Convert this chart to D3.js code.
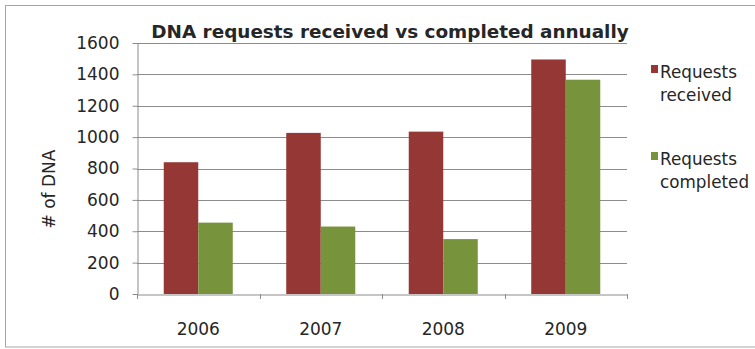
<!DOCTYPE html>
<html>
<head>
<meta charset="utf-8">
<script src="https://cdn.jsdelivr.net/npm/d3@7"></script>
<style>
  html, body { margin: 0; padding: 0; background: #fff; }
  svg { display: block; }
  text { font-family: "DejaVu Sans", sans-serif; fill: #262626; }
</style>
</head>
<body>
<svg id="chart" width="755" height="349"></svg>
<script>
const years = ["2006", "2007", "2008", "2009"];
const seriesNames = ["Requests received", "Requests completed"];
const received = [840, 1027, 1035, 1495];
const completed = [455, 430, 350, 1366];
const yTicks = [0, 200, 400, 600, 800, 1000, 1200, 1400, 1600];
const colors = ["#953735", "#77933C"];
const titleText = "DNA requests received vs completed annually";
const yTitle = "# of DNA";

const svg = d3.select("#chart");
const W = 755, H = 349;
const m = { left: 137, right: 128, top: 43, bottom: 55 };
const pw = W - m.left - m.right, ph = H - m.top - m.bottom;

// outer border
svg.append("rect").attr("x", 5.5).attr("y", 5.5).attr("width", 760).attr("height", 341.5)
  .attr("fill", "#fff").attr("stroke", "#a6a6a6").attr("stroke-width", 1);

const g = svg.append("g").attr("transform", `translate(${m.left},${m.top})`);

const x0 = d3.scaleBand().domain(years).range([0, pw]).paddingInner(0).paddingOuter(0);
const x1 = d3.scaleBand().domain(seriesNames).range([0, x0.bandwidth()]).paddingInner(0).paddingOuter(0.775);
const y = d3.scaleLinear().domain([0, 1600]).range([ph, 0]);

// gridlines
g.append("g").selectAll("line").data(yTicks.filter(d => d > 0)).join("line")
  .attr("x1", 0).attr("x2", pw)
  .attr("y1", d => Math.round(y(d)) + 0.5).attr("y2", d => Math.round(y(d)) + 0.5)
  .attr("stroke", "#8c8c8c").attr("stroke-width", 1);

// y axis
const yAxis = g.append("g").attr("transform", "translate(0.5,0)")
  .call(d3.axisLeft(y).tickValues(yTicks).tickSize(5).tickSizeOuter(0).tickPadding(13).tickFormat(d3.format("d")));
yAxis.select(".domain").attr("stroke", "#8c8c8c");
yAxis.selectAll(".tick line").attr("stroke", "#8c8c8c");
yAxis.selectAll(".tick text").attr("font-size", 17).attr("font-family", "DejaVu Sans").attr("fill", "#262626");

// bars
const data = years.map((yr, i) => ({ year: yr, values: [received[i], completed[i]] }));
g.append("g").selectAll("g").data(data).join("g")
  .attr("transform", d => `translate(${x0(d.year)},0)`)
  .selectAll("rect").data(d => d.values.map((v, k) => ({ k, v }))).join("rect")
  .attr("x", d => x1(seriesNames[d.k]))
  .attr("width", x1.bandwidth())
  .attr("y", d => y(d.v))
  .attr("height", d => y(0) - y(d.v))
  .attr("fill", d => colors[d.k]);

// x axis
const xAxis = g.append("g").attr("transform", `translate(0,${ph + 0.5})`)
  .call(d3.axisBottom(x0).tickSize(0).tickPadding(0));
xAxis.select(".domain").attr("stroke", "#8c8c8c");
xAxis.selectAll(".tick text").attr("font-size", 17).attr("font-family", "DejaVu Sans")
  .attr("fill", "#262626").attr("y", 40).attr("dy", 0);
// category boundary tick marks
g.append("g").selectAll("line").data(years.map(yr => x0(yr)).concat([pw])).join("line")
  .attr("x1", d => Math.round(d) + 0.5).attr("x2", d => Math.round(d) + 0.5)
  .attr("y1", ph).attr("y2", ph + 5)
  .attr("stroke", "#8c8c8c");

// title
svg.append("text").attr("x", 390).attr("y", 37.5).attr("text-anchor", "middle")
  .attr("font-size", 18.4).attr("font-weight", "bold").attr("fill", "#000").text(titleText);

// y title
svg.append("text").attr("transform", "translate(55,189) rotate(-90)").attr("text-anchor", "middle")
  .attr("font-size", 17).text(yTitle);

// legend
const legendY = [78, 165];
const leg = svg.append("g").selectAll("g").data(seriesNames).join("g")
  .attr("transform", (d, i) => `translate(651,${legendY[i]})`);
leg.append("rect").attr("x", 0).attr("y", -13).attr("width", 7).attr("height", 8)
  .attr("fill", (d, i) => colors[i]);
leg.append("text").attr("font-size", 16.8)
  .each(function(d) {
    const parts = d.split(" ");
    const t = d3.select(this);
    t.append("tspan").attr("x", 9).attr("y", 0).text(parts[0]);
    t.append("tspan").attr("x", 9).attr("y", 23).text(parts.slice(1).join(" "));
  });
</script>
</body>
</html>
